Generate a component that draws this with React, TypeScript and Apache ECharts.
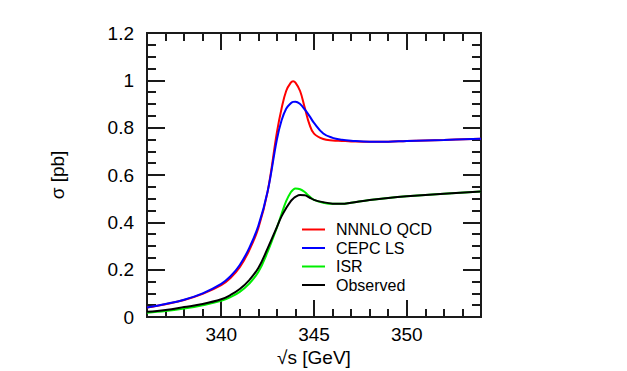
import React, { useEffect, useRef } from "react";
import * as echarts from "echarts";

const energies = [336, 337, 338, 339, 340, 340.5, 341, 341.5, 342, 342.5, 343, 343.25, 343.5, 343.75, 343.875, 344, 344.25, 344.5, 344.75, 345, 345.5, 346, 346.5, 347, 348, 349, 350, 352, 354];
const nnnloQcd = [0.040, 0.054, 0.072, 0.098, 0.135, 0.165, 0.21, 0.28, 0.375, 0.53, 0.78, 0.88, 0.955, 0.99, 0.996, 0.99, 0.955, 0.885, 0.815, 0.775, 0.752, 0.746, 0.744, 0.742, 0.740, 0.741, 0.744, 0.748, 0.753];
const cepcLs = [0.040, 0.055, 0.073, 0.100, 0.140, 0.172, 0.22, 0.29, 0.385, 0.53, 0.75, 0.83, 0.88, 0.903, 0.909, 0.91, 0.90, 0.877, 0.85, 0.82, 0.775, 0.757, 0.749, 0.745, 0.741, 0.741, 0.744, 0.748, 0.753];
const isr = [0.018, 0.025, 0.036, 0.050, 0.068, 0.084, 0.106, 0.14, 0.19, 0.275, 0.378, 0.435, 0.49, 0.527, 0.538, 0.543, 0.54, 0.528, 0.51, 0.495, 0.483, 0.478, 0.478, 0.483, 0.494, 0.503, 0.51, 0.521, 0.53];
const observed = [0.022, 0.030, 0.042, 0.055, 0.075, 0.093, 0.118, 0.155, 0.207, 0.29, 0.38, 0.425, 0.46, 0.49, 0.50, 0.508, 0.515, 0.514, 0.505, 0.495, 0.485, 0.479, 0.478, 0.483, 0.494, 0.503, 0.51, 0.521, 0.53];
const majorX = [340, 345, 350];
const seriesNames = ["NNNLO QCD", "CEPC LS", "ISR", "Observed"];
const seriesColors = ["#ff0000", "#0000ff", "#00ee00", "#000000"];

const FONT = "'Liberation Sans', Arial, Helvetica, sans-serif";
const AXC = "#1a1a1a";
const FS = 19;

export default function App() {
  const ref = useRef<HTMLDivElement>(null);
  useEffect(() => {
    if (!ref.current) return;
    const chart = echarts.init(ref.current, null, { renderer: "svg" });
    const values = [nnnloQcd, cepcLs, isr, observed];
    const baseX = (pos: string, minorAxis: boolean, labels: boolean) => ({
      type: "value",
      min: 336,
      max: 354,
      position: pos,
      ...(minorAxis ? { interval: 1 } : {}),
      axisLine: { show: true, onZero: false, lineStyle: { color: AXC, width: 2 } },
      axisTick: minorAxis
        ? { show: true, inside: true, length: 8, lineStyle: { color: AXC, width: 2 } }
        : { show: true, inside: true, length: 17, customValues: majorX, lineStyle: { color: AXC, width: 2 } },
      axisLabel: labels
        ? { show: true, customValues: majorX, fontSize: FS, color: "#000", fontFamily: FONT, margin: 8 }
        : { show: false },
      splitLine: { show: false },
    });
    const baseY = (pos: string, labels: boolean) => ({
      type: "value",
      min: 0,
      max: 1.2,
      interval: 0.2,
      position: pos,
      axisLine: { show: true, onZero: false, lineStyle: { color: AXC, width: 2 } },
      axisTick: { show: true, inside: true, length: 18, lineStyle: { color: AXC, width: 2 } },
      minorTick: { show: true, splitNumber: 4, length: 9, lineStyle: { color: AXC, width: 2 } },
      axisLabel: labels
        ? {
            show: true,
            fontSize: FS,
            color: "#000",
            fontFamily: FONT,
            margin: 13,
            formatter: (v: number) => String(Math.round(v * 10) / 10),
          }
        : { show: false },
      splitLine: { show: false },
      minorSplitLine: { show: false },
    });
    const xAxes: any[] = [
      { ...baseX("bottom", true, false), name: "√s [GeV]", nameLocation: "middle", nameGap: 31, nameTextStyle: { fontSize: FS, color: "#000", fontFamily: FONT } },
      baseX("bottom", false, true),
      baseX("top", true, false),
      baseX("top", false, false),
    ];
    const yAxes: any[] = [
      { ...baseY("left", true), name: "σ [pb]", nameLocation: "middle", nameGap: 80, nameRotate: 90, nameTextStyle: { fontSize: FS, color: "#000", fontFamily: FONT } },
      baseY("right", false),
    ];
    chart.setOption({
      animation: false,
      backgroundColor: "#ffffff",
      grid: { left: 147, right: 146, top: 33, bottom: 54, containLabel: false, outerBoundsMode: "none" },
      xAxis: xAxes,
      yAxis: yAxes,
      legend: {
        orient: "vertical",
        left: 302,
        top: 221.5,
        padding: 0,
        itemWidth: 23,
        itemHeight: 2,
        itemGap: 2.5,
        icon: "rect",
        data: seriesNames,
        textStyle: { fontSize: 16, color: "#000", fontFamily: FONT, padding: [0, 0, 0, 6] },
      },
      series: values.map((vals, i) => ({
        name: seriesNames[i],
        type: "line",
        xAxisIndex: 0,
        yAxisIndex: 0,
        data: energies.map((e, j) => [e, vals[j]]),
        smooth: 0.4,
        showSymbol: false,
        symbol: "none",
        lineStyle: { color: seriesColors[i], width: 2 },
        itemStyle: { color: seriesColors[i] },
        z: 2 + i,
      })),
    });
    return () => chart.dispose();
  }, []);
  return <div ref={ref} style={{ width: 627, height: 371, position: "absolute", left: 0, top: 0 }} />;
}
